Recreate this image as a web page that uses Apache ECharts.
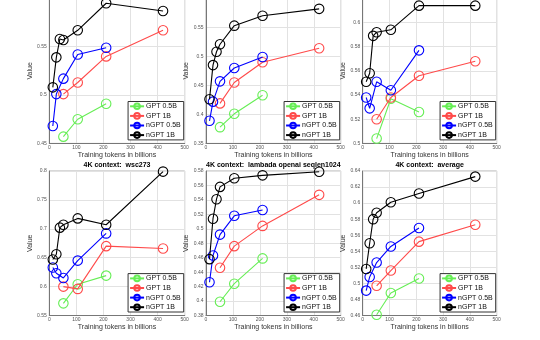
<!DOCTYPE html>
<html><head><meta charset="utf-8">
<script src="https://cdn.jsdelivr.net/npm/echarts@6/dist/echarts.min.js"></script>
<style>html,body{margin:0;padding:0;background:#fff}#c{width:540px;height:340px}</style>
</head><body><div id="c"></div>
<script>
// ---- data ----
const seriesNames = ['GPT 0.5B', 'GPT 1B', 'nGPT 0.5B', 'nGPT 1B'];
const seriesColors = ['#66ee55', '#ff4a4a', '#0000ff', '#000000'];
const xGPT05 = [52, 105, 210];
const xGPT1 = [52, 105, 210, 420];
const xNGPT05 = [13, 26, 52, 105, 210];
const xNGPT1 = [13, 26, 39, 52, 105, 210, 420];
const xTicks = [0, 100, 200, 300, 400, 500];

const panelTitles = ['', '', '', '4K context:  wsc273', '4K context:  lambada openai seqlen1024', '4K context:  average'];
const yMin = [0.45, 0.35, 0.50, 0.55, 0.38, 0.46];
const yMax = [0.60, 0.60, 0.62, 0.80, 0.58, 0.64];
const yStep = [0.05, 0.05, 0.02, 0.05, 0.02, 0.02];

// values per panel: [GPT 0.5B, GPT 1B, nGPT 0.5B, nGPT 1B]
const topLeftVals = [
  [0.457, 0.475, 0.491],
  [0.501, 0.513, 0.540, 0.567],
  [0.468, 0.501, 0.517, 0.542, 0.549],
  [0.508, 0.539, 0.558, 0.557, 0.567, 0.595, 0.587]
];
const topMidVals = [
  [0.378, 0.401, 0.433],
  [0.419, 0.455, 0.490, 0.514],
  [0.389, 0.422, 0.457, 0.480, 0.499],
  [0.426, 0.485, 0.508, 0.521, 0.553, 0.570, 0.582]
];
const topRightVals = [
  [0.504, 0.537, 0.526],
  [0.520, 0.538, 0.556, 0.568],
  [0.538, 0.529, 0.551, 0.544, 0.577],
  [0.551, 0.558, 0.589, 0.592, 0.594, 0.614, 0.614]
];
const wscVals = [
  [0.571, 0.604, 0.619],
  [0.600, 0.596, 0.670, 0.666],
  [0.633, 0.623, 0.615, 0.645, 0.692],
  [0.647, 0.656, 0.702, 0.707, 0.718, 0.707, 0.799]
];
const lambadaVals = [
  [0.399, 0.424, 0.459],
  [0.446, 0.476, 0.504, 0.547],
  [0.426, 0.463, 0.492, 0.518, 0.526],
  [0.458, 0.514, 0.541, 0.558, 0.570, 0.574, 0.579]
];
const averageVals = [
  [0.461, 0.488, 0.506],
  [0.497, 0.516, 0.552, 0.573],
  [0.491, 0.508, 0.526, 0.546, 0.569],
  [0.518, 0.550, 0.580, 0.588, 0.601, 0.612, 0.633]
];

// ---- layout ----
const panels = [topLeftVals, topMidVals, topRightVals, wscVals, lambadaVals, averageVals];
const xsBySeries = [xGPT05, xGPT1, xNGPT05, xNGPT1];
const cols = [{left: 49.3, width: 135.4}, {left: 206, width: 134.7}, {left: 362.7, width: 134}];
const rows = [{top: -1.6, height: 145}, {top: 171, height: 144.5}];
const FONT = 'Liberation Sans, Arial, Helvetica, sans-serif';

const grids = [], xAxes = [], yAxes = [], series = [], legends = [], titles = [];
panels.forEach((vals, p) => {
  const c = cols[p % 3], r = rows[Math.floor(p / 3)];
  grids.push({left: c.left, top: r.top, width: c.width, height: r.height,
    show: true, borderColor: '#b0b0b0', borderWidth: 1, containLabel: false, outerBoundsMode: 'none'});
  xAxes.push({type: 'value', gridIndex: p, min: xTicks[0], max: xTicks[xTicks.length - 1],
    interval: xTicks[1] - xTicks[0],
    name: 'Training tokens in billions', nameLocation: 'middle', nameGap: 8,
    nameTextStyle: {fontSize: 7, color: '#333', fontFamily: FONT},
    axisLine: {show: true, onZero: false, lineStyle: {color: '#777', width: 1}},
    axisTick: {show: false},
    axisLabel: {fontSize: 5, margin: 1.5, color: '#555', fontFamily: FONT},
    splitLine: {show: true, lineStyle: {color: '#e2e2e2', width: 1}}});
  yAxes.push({type: 'value', gridIndex: p, min: yMin[p], max: yMax[p], interval: yStep[p],
    name: 'Value', nameLocation: 'middle', nameGap: 13,
    nameTextStyle: {fontSize: 7, color: '#333', fontFamily: FONT},
    axisLine: {show: true, onZero: false, lineStyle: {color: '#777', width: 1}},
    axisTick: {show: false},
    axisLabel: {fontSize: 5, margin: 2.5, color: '#555', fontFamily: FONT},
    splitLine: {show: true, lineStyle: {color: '#e2e2e2', width: 1}}});
  vals.forEach((ys, s) => {
    series.push({type: 'line', name: seriesNames[s], xAxisIndex: p, yAxisIndex: p,
      data: xsBySeries[s].map((x, i) => [x, ys[i]]),
      symbol: 'circle', symbolSize: 9.5, showSymbol: true,
      color: seriesColors[s],
      itemStyle: {color: 'rgba(255,255,255,0)', borderColor: seriesColors[s], borderWidth: 1.1},
      lineStyle: {color: seriesColors[s], width: 1.1},
      emphasis: {disabled: true}, animation: false, z: 2 + s});
  });
  const gridRight = c.left + c.width;
  const gridBottom = r.top + r.height;
  legends.push({data: seriesNames, orient: 'vertical', selectedMode: false,
    right: 540 - gridRight + 1, bottom: 340 - gridBottom + 3.5,
    itemWidth: 14, itemHeight: 7, itemGap: 2, padding: [1, 3, 1, 1],
    backgroundColor: '#fff', borderColor: '#333', borderWidth: 1, borderRadius: 0,
    textStyle: {fontSize: 7, color: '#111', fontFamily: FONT, padding: [0, 0, 0, -3]}});
  if (panelTitles[p]) {
    titles.push({text: panelTitles[p], left: c.left + c.width / 2, top: 161.5, textAlign: 'center',
      padding: 0, textStyle: {fontSize: 7, fontWeight: 'bold', color: '#000', fontFamily: FONT}});
  }
});

const chart = echarts.init(document.getElementById('c'), null, {renderer: 'canvas'});
chart.setOption({backgroundColor: '#fff', animation: false, title: titles,
  grid: grids, xAxis: xAxes, yAxis: yAxes, series: series, legend: legends});
</script></body></html>
